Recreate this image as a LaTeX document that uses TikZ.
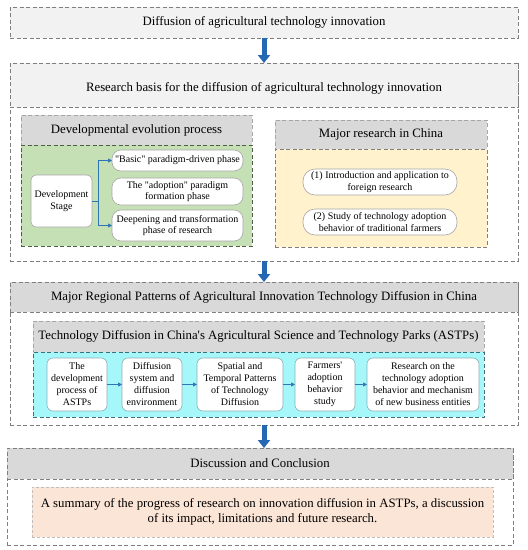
\documentclass[tikz,border=0pt]{standalone}
\usepackage{fontspec}
\setmainfont{Liberation Serif}
\usetikzlibrary{arrows.meta}
\definecolor{lightgr}{HTML}{F2F2F2}
\definecolor{midgr}{HTML}{D9D9D9}
\definecolor{dashgr}{HTML}{7F7F7F}
\definecolor{softgr}{HTML}{A6A6A6}
\definecolor{greenfill}{HTML}{C5E0B4}
\definecolor{greenedge}{HTML}{4F5F45}
\definecolor{yellowfill}{HTML}{FFF2CC}
\definecolor{cyanfill}{HTML}{A5F7FA}
\definecolor{cyanedge}{HTML}{3F6F78}
\definecolor{stepedge}{HTML}{8FAFB5}
\definecolor{peachfill}{HTML}{FBE5D6}
\definecolor{peachedge}{HTML}{BFBFBF}
\definecolor{arrowblue}{HTML}{2467B2}
\definecolor{connblue}{HTML}{2E75B6}
\newcommand{\sq}{\textquotesingle}
\newcommand{\dq}{\textquotedbl}
\begin{document}
\begin{tikzpicture}[x=1pt,y=-1pt,
  panel/.style={draw=dashgr, line width=0.8pt, dash pattern=on 4pt off 2.5pt, inner sep=0pt, outer sep=0pt},
  subpanel/.style={draw=softgr, line width=0.8pt, dash pattern=on 4pt off 2.5pt, inner sep=0pt, outer sep=0pt},
  bigfont/.style={font=\fontsize{12.8}{15}\selectfont},
  smallfont/.style={font=\fontsize{10}{11.8}\selectfont},
  rbox/.style={draw=softgr, fill=white, line width=0.6pt, rounded corners=9pt, inner sep=0pt, outer sep=0pt, align=center, smallfont},
  pillbox/.style={draw=softgr, fill=white, line width=0.6pt, rounded corners=12pt, inner sep=0pt, outer sep=0pt, align=center, smallfont},
  stepnode/.style={draw=stepedge, fill=white, line width=0.6pt, rounded corners=6pt, inner sep=0pt, outer sep=0pt, align=center, font=\fontsize{10}{12}\selectfont},
  bigarrow/.style={draw=arrowblue, line width=5pt, -{Triangle[width=12pt,length=8pt]}},
  conn/.style={draw=connblue, line width=0.7pt, -{Triangle[width=4pt,length=4pt]}}
]
\useasboundingbox (0,0) rectangle (528,550);

% top box
\node[panel, fill=lightgr, minimum width=508pt, minimum height=31pt, bigfont] (top) at (264,22.5) {Diffusion of agricultural technology innovation};

% research basis
\node[panel, minimum width=508pt, minimum height=198pt] (rb) at (264,162) {};
\node[panel, fill=lightgr, minimum width=508pt, minimum height=44pt] (rbh) at (264,85) {};
\node[bigfont, inner sep=0pt] (rbt) at (264,88) {Research basis for the diffusion of agricultural technology innovation};

% left sub-panel
\node[subpanel, fill=midgr, minimum width=231pt, minimum height=30pt, bigfont] (dh) at (136.5,130) {Developmental evolution process};
\node[panel, draw=greenedge, fill=greenfill, minimum width=231pt, minimum height=101pt] (gr) at (136.5,195.5) {};
\node[rbox, rounded corners=5pt, minimum width=61pt, minimum height=52pt] (ds) at (61.5,201) {Development\\Stage};
\node[rbox, minimum width=131pt, minimum height=21pt] (p1) at (177.5,160.5) {\dq Basic\dq{} paradigm-driven phase};
\node[rbox, minimum width=131pt, minimum height=27pt] (p2) at (177.5,191.5) {The \dq adoption\dq{} paradigm\\formation phase};
\node[rbox, minimum width=131pt, minimum height=31pt] (p3) at (177.5,225.5) {Deepening and transformation\\phase of research};
\draw[conn] (ds.east) -- ++(6,0) |- (p1.west);
\draw[conn] (ds.east) -- ++(6,0) |- (p3.west);

% right sub-panel
\node[subpanel, fill=midgr, minimum width=212pt, minimum height=29pt, bigfont] (mh) at (381,134.5) {Major research in China};
\node[panel, fill=yellowfill, minimum width=212pt, minimum height=98pt] (ye) at (381,198) {};
\node[pillbox, minimum width=154pt, minimum height=26pt] (r1) at (380,182) {(1) Introduction and application to\\foreign research};
\node[pillbox, minimum width=154pt, minimum height=26pt] (r2) at (380,222) {(2) Study of technology adoption\\behavior of traditional farmers};

% major regional
\node[panel, minimum width=508pt, minimum height=143pt] (mr) at (264,353.5) {};
\node[panel, fill=midgr, minimum width=508pt, minimum height=30pt, bigfont] (mrh) at (264,297) {Major Regional Patterns of Agricultural Innovation Technology Diffusion in China};
\node[subpanel, fill=midgr, minimum width=451pt, minimum height=31pt, bigfont] (ah) at (258.5,336.5) {Technology Diffusion in China\sq s Agricultural Science and Technology Parks (ASTPs)};
\node[panel, draw=cyanedge, fill=cyanfill, minimum width=451pt, minimum height=65pt] (cy) at (258.5,384.5) {};
\node[stepnode, minimum width=60pt, minimum height=53pt] (b1) at (77,384.5) {The\\development\\process of\\ASTPs};
\node[stepnode, minimum width=60pt, minimum height=53pt] (b2) at (152,384.5) {Diffusion\\system and\\diffusion\\environment};
\node[stepnode, minimum width=86pt, minimum height=53pt] (b3) at (240,384.5) {Spatial and\\Temporal Patterns\\of Technology\\Diffusion};
\node[stepnode, minimum width=60pt, minimum height=53pt] (b4) at (325,384.5) {Farmers\sq\\adoption\\behavior\\study};
\node[stepnode, minimum width=112pt, minimum height=53pt] (b5) at (423,384.5) {Research on the\\technology adoption\\behavior and mechanism\\of new business entities};
\draw[conn] (b1) -- (b2);
\draw[conn] (b2) -- (b3);
\draw[conn] (b3) -- (b4);
\draw[conn] (b4) -- (b5);

% discussion
\node[panel, minimum width=506pt, minimum height=97pt] (dc) at (260,496.5) {};
\node[panel, fill=midgr, minimum width=506pt, minimum height=31pt, bigfont] (dch) at (260,463.5) {Discussion and Conclusion};
\node[draw=peachedge, fill=peachfill, line width=0.7pt, dash pattern=on 3pt off 2pt, inner sep=0pt, minimum width=461pt, minimum height=50pt, align=center, bigfont] (sm) at (262.5,512) {A summary of the progress of research on innovation diffusion in ASTPs, a discussion\\of its impact, limitations and future research.};

% big arrows
\draw[bigarrow] (top.south) -- (rb.north);
\draw[bigarrow] (rb.south) -- (mr.north);
\draw[bigarrow] (mr.south) -- (mr.south |- dc.north);
\end{tikzpicture}
\end{document}
